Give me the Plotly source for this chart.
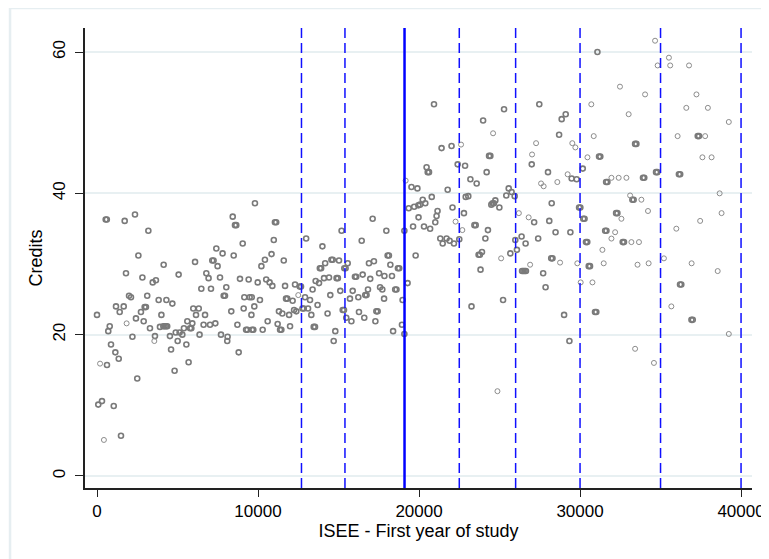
import plotly.graph_objects as go

# ---- data (ISEE, credits) ----
# darker / bolder markers
isee_a = [0, 80, 310, 540, 610, 620, 700, 790, 870, 1040, 1140, 1180, 1350, 1410, 1490, 1660, 1720, 1800,
          1990, 2110, 2200, 2360, 2420, 2500, 2570, 2730, 2820, 2900, 2960, 3040, 3120, 3190, 3290, 3460,
          3600, 3660, 3830, 3910, 4000, 4140, 4120, 4200, 4290, 4360, 4310, 4530, 4600, 4680, 4820, 4890,
          5010, 5070, 5130, 5300, 5400, 5550, 5610, 5690, 5780, 5860, 5920, 5980, 6090, 6150, 6320, 6370,
          6480, 6620, 6710, 6790, 6930, 7020, 7080, 7160, 7240, 7350, 7410, 7490, 7640, 7700, 7800, 7870,
          7950, 8030, 8090, 8110, 8340, 8430, 8490, 8570, 8650, 8720, 8800, 8880, 9050, 9110, 9150, 9260,
          9340, 9420, 9480, 9590, 9610, 9630, 9710, 9770, 9810, 9980,
          10120, 10210, 10290, 10430, 10510, 10600, 10720, 10840, 10890, 10980, 11050, 11130, 11220, 11300,
          11370, 11450, 11510, 11600, 11680, 11740, 11820, 11930, 11990, 12150, 12240, 12300, 12380, 12590,
          12670, 12760, 12840, 12920, 12990, 13110, 13230, 13310, 13390, 13460, 13540, 13580, 13700, 13790,
          13840, 13920, 14000, 14100, 14170, 14320, 14410, 14490, 14560, 14640, 14700, 14800, 14880, 14960,
          15030, 15110, 15190, 15260, 15340, 15360, 15440, 15480, 15570, 15710, 15800, 15880, 16020, 16100,
          16230, 16270, 16440, 16500, 16600, 16660, 16740, 16830, 16890, 16970, 17120, 17200, 17290, 17350,
          17430, 17520, 17580, 17720, 17830, 17850, 17970, 18050, 18130, 18220, 18320, 18390, 18520, 18600,
          18690, 18770, 18940, 18980, 19090, 19090, 19290,
          19360, 19530, 19630, 19700, 19790, 19900, 19960, 19970, 20060, 20230, 20310, 20390, 20470, 20540,
          20620, 20690, 20790, 20930, 21010, 21090, 21150, 21320, 21400, 21470, 21710, 21780, 21900, 22020,
          22080, 22170, 22400, 22500, 22790, 22860, 22900, 23060, 23190, 23260, 23440, 23520, 23580, 23700,
          23780, 23820, 23910, 23980, 24120, 24200, 24280, 24350, 24430, 24490, 24570, 24650, 24740, 24990,
          25220, 25280, 25420, 25570, 25670, 25750, 25940, 25980, 26080, 26370, 26400, 26480, 26560, 26640,
          26620, 27000, 27150, 27400, 27470, 27710, 27860, 28010, 28090, 28240, 28210, 28290, 28480, 28700,
          28860, 29010, 29110, 29340, 29400, 29480, 29790, 29940, 30020,
          30170, 30200, 30280, 30370, 30450, 30540, 30620, 30930, 31010, 31080, 31180, 31260, 31560, 31640,
          31620, 31700, 32240, 32320, 32650, 32730, 33250, 33330, 33420, 33500, 33910, 33990, 34720, 34800,
          36140, 36220, 36210, 36290, 36920, 37000, 37310, 37390]
credits_a = [22.8, 10.1, 10.6, 36.3, 36.3, 15.7, 20.5, 21.2, 18.6, 9.9, 17.5, 24.0, 16.6, 23.2, 5.7, 24.0, 36.1, 28.7,
             25.5, 25.3, 19.7, 37.0, 22.3, 13.8, 31.2, 23.2, 28.1, 21.9, 23.9, 23.9, 25.5, 34.7, 20.9, 27.4,
             19.8, 27.7, 24.9, 21.1, 22.8, 29.9, 21.2, 21.2, 21.2, 21.2, 24.9, 19.8, 17.9, 24.4, 14.9, 20.3,
             19.1, 28.5, 20.3, 20.0, 20.9, 18.6, 21.9, 16.1, 20.9, 20.9, 21.6, 23.7, 30.3, 22.8, 23.7, 20.0,
             26.5, 21.4, 22.8, 28.7, 28.0, 21.4, 26.5, 30.5, 30.5, 21.6, 32.2, 29.7, 28.1, 20.0, 31.5, 25.5,
             25.5, 26.7, 19.1, 19.7, 23.3, 36.7, 31.2, 35.5, 35.5, 21.4, 17.5, 27.9, 32.9, 23.7, 25.3, 20.7,
             20.7, 27.8, 25.3, 22.8, 25.3, 20.7, 20.7, 24.0, 38.6, 27.4,
             24.9, 29.7, 20.7, 30.6, 27.8, 21.9, 27.4, 31.4, 26.9, 33.4, 35.9, 35.9, 21.5, 23.3,
             20.7, 20.7, 23.0, 30.5, 26.9, 25.1, 25.1, 22.8, 21.2, 24.8, 23.5, 27.1, 23.3, 26.8,
             26.8, 23.7, 23.7, 25.3, 33.6, 23.7, 24.9, 22.8, 26.4, 21.1, 21.1, 27.6, 24.2, 27.3,
             29.4, 29.4, 32.5, 28.0, 30.1, 23.0, 28.1, 25.6, 30.6, 30.6, 19.1, 20.5, 28.0, 28.0,
             30.5, 26.2, 34.7, 23.5, 23.5, 29.4, 29.4, 22.4, 30.1, 25.1, 21.9, 26.2, 28.2, 28.2,
             25.3, 23.2, 33.3, 28.5, 22.4, 25.6, 25.6, 26.4, 30.1, 27.9, 36.4, 30.4, 21.9, 23.3,
             23.3, 28.7, 26.7, 26.4, 25.1, 28.3, 34.7, 31.2, 31.2, 29.9, 28.3, 20.5, 26.4, 26.4,
             29.4, 29.4, 21.4, 24.9, 34.7, 20.1, 27.3,
             37.9, 40.9, 35.3, 38.1, 31.2, 40.7, 38.3, 36.6, 38.4, 39.1, 35.3, 38.6, 43.7, 43.0,
             43.0, 35.0, 39.5, 52.6, 35.9, 36.8, 37.5, 33.6, 46.4, 32.9, 33.6, 40.5, 33.3, 46.7,
             38.0, 32.9, 44.1, 33.5, 37.2, 43.9, 39.5, 39.6, 42.0, 24.0, 35.5, 35.5, 41.4, 31.3,
             31.3, 29.2, 31.7, 50.3, 33.6, 43.0, 34.8, 45.3, 45.3, 38.4, 38.6, 38.6, 39.0, 38.0,
             24.9, 51.9, 39.7, 40.7, 31.5, 40.2, 39.6, 33.4, 32.0, 33.9, 29.0, 29.0, 29.0, 29.0,
             32.9, 44.1, 35.9, 33.6, 52.6, 28.7, 26.7, 43.0, 36.1, 38.6, 30.8, 30.8, 34.5, 48.3,
             50.5, 22.8, 51.2, 19.1, 34.5, 42.1, 42.0, 38.0, 38.0,
             43.5, 36.4, 36.4, 33.1, 33.1, 29.7, 29.7, 23.2, 23.2, 60.0, 45.2, 45.2, 34.7, 34.7,
             41.6, 41.6, 37.2, 37.2, 33.1, 33.1, 39.1, 39.1, 47.0, 47.0, 42.2, 42.2, 43.0, 43.0,
             42.7, 42.7, 27.1, 27.1, 22.1, 22.1, 48.1, 48.1]

# lighter / thinner markers
isee_b = [190, 430, 1840, 3560, 12500, 19170, 22270, 22610, 22690, 24600, 24870, 25100, 26200, 26810, 26900,
          27020, 27270, 27580, 27740, 28590, 28760, 29230, 29520, 29710, 29830, 30040,
          30460, 30700, 30770, 30850, 31390, 31470, 31950, 31950, 32180, 32400, 32480, 32570, 32880, 33020,
          33110, 33190, 33420, 33570, 33660, 33810, 34040, 34220, 34260, 34590, 34660, 34820, 35210, 35520,
          35600, 35670, 35980, 36060, 36600, 36770, 36930, 37230, 37460, 37600, 37770, 37940, 38170, 38550,
          38670, 38790, 39240, 39240]
credits_b = [15.9, 5.1, 21.6, 19.1, 25.6, 41.8, 36.0, 46.9, 34.8, 48.5, 12.0, 30.8, 37.2, 36.6, 29.9,
             45.5, 47.1, 41.4, 41.0, 41.6, 30.2, 42.7, 47.1, 46.5, 30.1, 27.4,
             45.1, 52.6, 27.4, 48.1, 32.0, 30.1, 42.2, 33.6, 34.5, 42.2, 55.1, 36.4, 42.2, 51.2,
             39.7, 33.1, 18.0, 29.9, 33.1, 39.1, 54.0, 37.5, 30.1, 16.0, 61.6, 58.1, 30.8, 59.2,
             58.1, 24.0, 35.0, 48.1, 52.1, 58.1, 30.1, 54.0, 36.1, 45.1, 48.1, 52.1, 45.1, 29.0,
             40.0, 37.2, 50.1, 20.1]

# cut-off lines (ISEE thresholds)
cutoffs_dashed = [12700, 15400, 22500, 26000, 30000, 35000, 40000]
cutoff_solid = 19100

x_ticks = [0, 10000, 20000, 30000, 40000]
y_ticks = [0, 20, 40, 60]

FONT = "Liberation Sans, Arial, sans-serif"

fig = go.Figure()
fig.add_trace(go.Scatter(
    x=isee_a, y=credits_a, mode="markers", showlegend=False,
    marker=dict(symbol="circle-open", size=5, color="#7a7a7a", line=dict(width=1.6, color="#7a7a7a")),
))
fig.add_trace(go.Scatter(
    x=isee_b, y=credits_b, mode="markers", showlegend=False,
    marker=dict(symbol="circle-open", size=5, color="#8c8c8c", line=dict(width=1.0, color="#8c8c8c")),
))

shapes = []
for c in cutoffs_dashed:
    shapes.append(dict(type="line", xref="x", yref="paper", x0=c, x1=c, y0=0, y1=1,
                       line=dict(color="#1010ff", width=1.5, dash="10px,5px"), layer="above"))
shapes.append(dict(type="line", xref="x", yref="paper", x0=cutoff_solid, x1=cutoff_solid, y0=0, y1=1,
                   line=dict(color="#0000ff", width=2.5), layer="above"))
# faint outer frame of the graph window
shapes.append(dict(type="line", xref="paper", yref="paper", x0=-0.1124, x1=1.03, y0=1.0435, y1=1.0435,
                   line=dict(color="#e6eef1", width=2.5)))
shapes.append(dict(type="line", xref="paper", yref="paper", x0=-0.1124, x1=-0.1124, y0=-0.16, y1=1.0435,
                   line=dict(color="#e6eef1", width=2.5)))

# the page body adds an 8px offset, so the figure is sized to fit inside the 769x559 window
fig.update_layout(
    width=761, height=551,
    margin=dict(l=77, r=17, t=20, b=71, autoexpand=False),
    paper_bgcolor="white", plot_bgcolor="white",
    font=dict(family=FONT, size=17, color="black"),
    shapes=shapes,
    xaxis=dict(
        range=[-745, 40680], tickvals=x_ticks, ticktext=[str(v) for v in x_ticks],
        ticks="outside", ticklen=7, tickwidth=1.3, tickcolor="#222", automargin=False,
        showline=True, linecolor="#222", linewidth=1.5, showgrid=False, zeroline=False,
        tickfont=dict(size=17, family=FONT, color="black"),
        title=dict(text="ISEE - First year of study", font=dict(size=18, family=FONT, color="black"), standoff=2),
    ),
    yaxis=dict(
        range=[-1.7, 63.4], tickvals=y_ticks, ticktext=[str(v) for v in y_ticks], tickangle=-90,
        ticks="outside", ticklen=8, tickwidth=1.3, tickcolor="#222", automargin=False,
        showline=True, linecolor="#222", linewidth=1.5, showgrid=True, gridcolor="#e8f0f2", gridwidth=1.5,
        zeroline=False, ticklabelstandoff=3,
        tickfont=dict(size=17, family=FONT, color="black"),
        title=dict(text="Credits", font=dict(size=18, family=FONT, color="black"), standoff=3),
    ),
)

fig.write_html("out.html")
